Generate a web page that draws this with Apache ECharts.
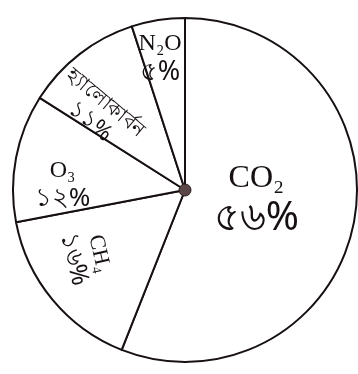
<!DOCTYPE html>
<html>
<head>
<meta charset="utf-8">
<script src="https://cdn.jsdelivr.net/npm/echarts@6/dist/echarts.min.js"></script>
<style>
  html, body { margin: 0; padding: 0; background: #ffffff; }
  #chart { width: 358px; height: 374px; }
</style>
</head>
<body>
<div id="chart"></div>
<script>
// Greenhouse gas shares (per cent)
const gases = ['CO₂', 'CH₄', 'O₃', 'হ্যালোকার্বন', 'N₂O'];
const shares = [56, 16, 12, 11, 5];

const bnDigits = '০১২৩৪৫৬৭৮৯';
const toBengali = n => String(n).replace(/\d/g, d => bnDigits[d]);

// Per-slice label look: text sizes, rotation (degrees, counter-clockwise)
// and an on-screen nudge (sx, sy) away from the slice's inner anchor
const labelLook = [
  { name: 32, pct: 40, rotate: 0,   sx: -16, sy: -7 },
  { name: 22, pct: 25, rotate: -77, sx: -30, sy: 10 },
  { name: 24, pct: 26, rotate: 0,   sx: -35, sy: 11 },
  { name: 20, pct: 23, rotate: -40, sx: -33, sy: -7 },
  { name: 24, pct: 27, rotate: 0,   sx: -11, sy: -44 }
];

const ink = '#161012';
const center = [185, 190];

const sliceData = gases.map((g, i) => {
  const look = labelLook[i];
  return {
    name: g,
    value: shares[i],
    label: {
      rotate: look.rotate,
      formatter: '{n|' + g + '}\n{p|' + toBengali(shares[i]) + '%}',
      rich: {
        n: {
          fontFamily: '"Liberation Serif", "DejaVu Serif", serif',
          fontSize: look.name,
          lineHeight: Math.round(look.name * 1.15),
          color: ink,
          align: 'center'
        },
        p: {
          fontFamily: '"Noto Sans", "DejaVu Sans", sans-serif',
          fontSize: look.pct,
          lineHeight: Math.round(look.pct * 1.05),
          color: ink,
          align: 'center'
        }
      }
    }
  };
});

// The label offset is applied in the label's rotated frame, so turn the
// on-screen nudge into that frame first.
function nudge(p) {
  const look = labelLook[p.dataIndex];
  const t = -look.rotate * Math.PI / 180;
  return {
    dx: look.sx * Math.cos(t) + look.sy * Math.sin(t),
    dy: -look.sx * Math.sin(t) + look.sy * Math.cos(t)
  };
}

const chart = echarts.init(document.getElementById('chart'), null, { renderer: 'canvas' });
chart.setOption({
  backgroundColor: '#ffffff',
  animation: false,
  series: [
    {
      type: 'pie',
      center: center,
      radius: [0, 172],
      startAngle: 90,
      clockwise: true,
      silent: true,
      data: sliceData,
      itemStyle: { color: '#ffffff', borderColor: ink, borderWidth: 2 },
      label: { show: true, position: 'inside' },
      labelLine: { show: false },
      labelLayout: nudge
    },
    {
      // hub where the dividing lines meet
      type: 'pie',
      center: center,
      radius: [0, 6],
      silent: true,
      data: [{ value: 1, name: 'hub' }],
      itemStyle: { color: '#5a4646', borderColor: '#2a1e1f', borderWidth: 1 },
      label: { show: false },
      labelLine: { show: false }
    }
  ]
});
</script>
</body>
</html>
